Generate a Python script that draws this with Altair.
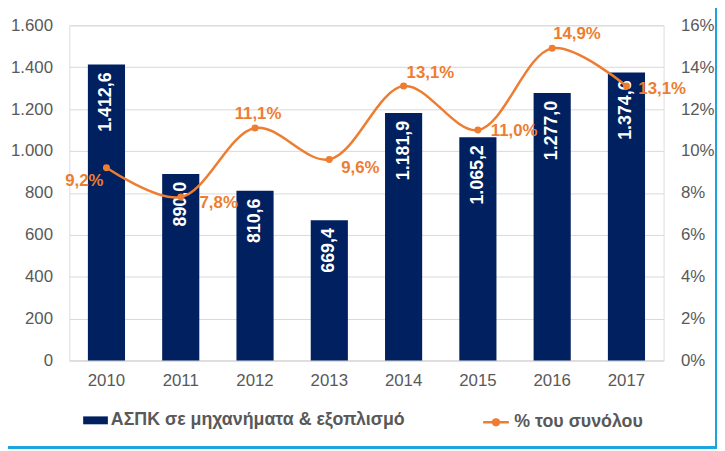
import altair as alt
import pandas as pd

years = ["2010", "2011", "2012", "2013", "2014", "2015", "2016", "2017"]
values = [1412.6, 890.0, 810.6, 669.4, 1181.9, 1065.2, 1277.0, 1374.6]
pcts = [9.2, 7.8, 11.1, 9.6, 13.1, 11.0, 14.9, 13.1]
bar_name = "ΑΣΠΚ σε μηχανήματα & εξοπλισμό"
line_name = "% του συνόλου"

def gr_num(v):
    s = f"{v:,.1f}"
    return s.replace(",", "X").replace(".", ",").replace("X", ".")

df = pd.DataFrame({
    "year": years,
    "value": values,
    "pct": pcts,
    "vlabel": [gr_num(v) for v in values],
    "plabel": [f"{p:.1f}%".replace(".", ",") for p in pcts],
    "bs": [bar_name] * len(years),
    "ls": [line_name] * len(years),
})

NAVY = "#002060"
ORANGE = "#ED7D31"
FONT = "Liberation Sans"
W, H = 601, 339

base = alt.Chart(df)
x = alt.X("year:N", sort=years, title=None,
          scale=alt.Scale(paddingInner=0.5, paddingOuter=0.25),
          axis=alt.Axis(labelAngle=0, ticks=False, domain=True, domainColor="#d9d9d9",
                        labelFontSize=17, labelColor="#595959", labelPadding=12, labelFont=FONT))

yl = alt.Y("value:Q", title=None,
           scale=alt.Scale(domain=[0, 1600], nice=False),
           axis=alt.Axis(values=list(range(0, 1601, 200)), ticks=False, domain=False,
                         gridColor="#d9d9d9", labelFontSize=17, labelColor="#595959",
                         labelPadding=17, labelFont=FONT,
                         labelExpr="replace(format(datum.value, ','), ',', '.')"))

bars = base.mark_bar().encode(
    x=x, y=yl,
    color=alt.Color("bs:N", scale=alt.Scale(domain=[bar_name], range=[NAVY]),
                    legend=alt.Legend(title=None, orient="none", legendX=14, legendY=387,
                                      symbolType="M-1,-0.32H1V0.32H-1Z", symbolSize=625,
                                      symbolStrokeWidth=0, labelFontSize=18, labelFontWeight="bold",
                                      labelColor="#595959",
                                      labelFont=FONT, labelOffset=3, padding=0, labelLimit=500)),
)
bar_labels = base.mark_text(angle=270, align="right", baseline="middle", dx=-8,
                            color="white", fontSize=18, fontWeight="bold", font=FONT).encode(
    x=x, y=yl, text="vlabel:N")

left = alt.layer(bars, bar_labels)

yr = alt.Y("pct:Q", title=None,
           scale=alt.Scale(domain=[0, 16], nice=False),
           axis=alt.Axis(orient="right", values=list(range(0, 17, 2)), ticks=False, domain=False,
                         grid=False, labelFontSize=17, labelColor="#595959", labelPadding=17,
                         labelFont=FONT, labelExpr="datum.value + '%'"))

line = base.mark_line(interpolate="catmull-rom", strokeWidth=2.5).encode(
    x=x, y=yr,
    stroke=alt.Stroke("ls:N", scale=alt.Scale(domain=[line_name], range=[ORANGE]),
                      legend=alt.Legend(title=None, orient="none", legendX=417, legendY=387,
                                        symbolType="M-1,0H1M0.22,0A0.22,0.22,0,1,1,-0.22,0A0.22,0.22,0,1,1,0.22,0",
                                        symbolSize=676, symbolStrokeWidth=2.5, symbolFillColor=ORANGE,
                                        labelFontSize=18, labelFontWeight="bold", labelColor="#595959",
                                        labelFont=FONT, labelOffset=4, padding=0, labelLimit=500)),
)
points = base.mark_point(filled=True, size=50, color=ORANGE, opacity=1).encode(x=x, y=yr)

offsets = {
    "2010": ("right", -3, 13),
    "2011": ("left", 19, 6),
    "2012": ("center", 3, -14),
    "2013": ("left", 12, 9),
    "2014": ("left", 3, -13),
    "2015": ("left", 13, 1),
    "2016": ("left", 1, -14),
    "2017": ("left", 12, 3),
}
plabels = []
for yv, (al, dx, dy) in offsets.items():
    plabels.append(
        base.transform_filter(alt.datum.year == yv).mark_text(
            align=al, baseline="middle", dx=dx, dy=dy, color=ORANGE,
            fontSize=17, fontWeight="bold", font=FONT).encode(
            x=x, y=yr, text="plabel:N"))

right = alt.layer(line, points, *plabels)

border = alt.Chart(df).mark_rect(fill=None, stroke="#1FA3E0", strokeWidth=2).encode(
    x=alt.value(-69), x2=alt.value(654), y=alt.value(-22), y2=alt.value(427))

chart = alt.layer(left, right, border).resolve_scale(
    y="independent", color="independent", stroke="independent"
).properties(
    width=W, height=H,
    autosize=alt.AutoSizeParams(type="none"),
    padding={"left": 62, "top": 15, "right": 54, "bottom": 89},
).configure_view(stroke=None).configure(background="white")

chart.save("out.html", embed_options={"renderer": "svg", "actions": False})
